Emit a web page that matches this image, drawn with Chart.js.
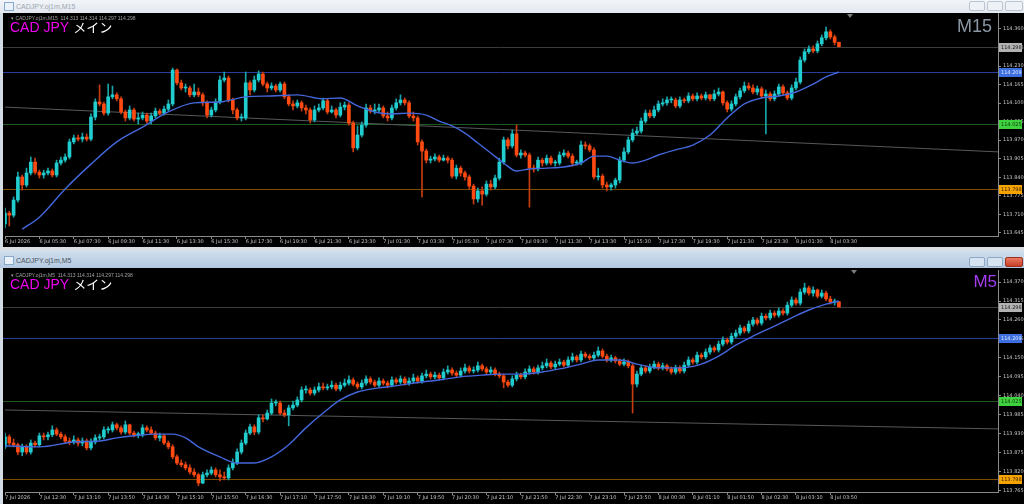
<!DOCTYPE html>
<html lang="ja">
	<head>
		<meta charset="UTF-8">
		<title>CADJPY M15 / M5</title>
		<script src="https://cdn.jsdelivr.net/npm/chart.js@4.4.1/dist/chart.umd.min.js"></script>
		<style>
			body { margin: 0; width: 1024px; height: 504px; overflow: hidden; position: relative; background: #d3dbe5; font-family: "Liberation Sans", Arial, sans-serif; }
			.bar { position: absolute; left: 0; width: 1024px; }
			.icon { position: absolute; left: 4px; width: 8px; height: 7px; border: 1px solid #87a9cc; background: #eaf2fb; }
			.ttl { position: absolute; left: 16px; font-size: 7px; white-space: nowrap; }
			.btn { position: absolute; width: 14px; height: 8px; border: 1px solid #b9c4d0; border-radius: 2px; background: #eef2f6; }
			.win { position: absolute; left: 3px; width: 1021px; background: #000; overflow: hidden; }
			.win canvas { position: absolute; left: 0; top: 0; }
			.head { position: absolute; left: 8px; font-size: 5px; color: #a0a0a0; white-space: nowrap; z-index: 2; }
			.sym { position: absolute; left: 7px; font-size: 14px; line-height: 14px; color: #f000f0; white-space: nowrap; z-index: 2; }
			.sym span { color: #fff; font-family: "Noto Sans CJK JP", sans-serif; font-size: 13px; margin-left: 4px; }
			.tf { position: absolute; font-size: 18px; line-height: 18px; z-index: 2; }
			.shift { position: absolute; width: 0; height: 0; border-left: 3px solid transparent; border-right: 3px solid transparent; border-top: 4px solid #7a7a7a; z-index: 2; }
		</style>
	</head>
	<body>
		<!-- top window: M15 -->
		<div class="bar" style="top:0;height:13px;background:linear-gradient(#f2f5f9,#e2e8ef);">
			<div class="icon" style="top:2px;"></div>
			<div class="ttl" style="top:3px;color:#9ea7b1;">CADJPY.oj1m,M15</div>
			<div class="btn" style="left:969px;top:1px;"></div>
			<div class="btn" style="left:987px;top:1px;"></div>
			<div class="btn" style="left:1005px;top:1px;width:16px;"></div>
		</div>
		<div class="win" style="top:13px;height:234px;">
			<canvas id="m15" width="1021" height="234"></canvas>
			<div class="head" style="top:2px;">&#9662; CADJPY.oj1m,M15 &nbsp;114.313 114.314 114.297 114.298</div>
			<div class="sym" style="top:7px;">CAD JPY<span>メイン</span></div>
			<div class="tf" style="right:32px;top:4px;color:#8b96a4;">M15</div>
			<div class="shift" style="left:844px;top:1px;"></div>
		</div>

		<!-- bottom window: M5 -->
		<div class="bar" style="top:247px;height:4px;background:#d9dee4;"></div>
		<div class="bar" style="top:251px;height:17px;background:linear-gradient(#d0deed,#b3c9e1);">
			<div class="icon" style="top:5px;"></div>
			<div class="ttl" style="top:6px;color:#4a545e;">CADJPY.oj1m,M5</div>
			<div class="btn" style="left:969px;top:6px;background:#d6e3f1;border-color:#8ea7c2;"></div>
			<div class="btn" style="left:987px;top:6px;background:#d6e3f1;border-color:#8ea7c2;"></div>
			<div class="btn" style="left:1005px;top:6px;width:16px;background:linear-gradient(#ea7a62,#c63e28);border-color:#9c2f1e;"></div>
		</div>
		<div class="win" style="top:268px;height:236px;">
			<canvas id="m5" width="1021" height="236"></canvas>
			<div class="head" style="top:4px;">&#9662; CADJPY.oj1m,M5 &nbsp;114.313 114.314 114.297 114.298</div>
			<div class="sym" style="top:9px;">CAD JPY<span>メイン</span></div>
			<div class="tf" style="right:27px;top:5px;color:#a23cf0;font-size:17px;">M5</div>
			<div class="shift" style="left:848px;top:2px;"></div>
		</div>

		<script>
			// ---- M15 ----
			var m15FirstOpen = 113.676;
			var m15Close = [
				113.714,113.707,113.760,113.841,113.813,113.855,113.893,113.858,113.848,113.855,
				113.862,113.848,113.890,113.900,113.911,113.964,113.978,113.974,113.981,113.974,
				114.051,114.104,114.097,114.065,114.122,114.129,114.115,114.069,114.048,114.076,
				114.044,114.048,114.058,114.037,114.055,114.072,114.065,114.079,114.097,114.216,
				114.171,114.153,114.153,114.129,114.139,114.129,114.101,114.058,114.076,114.104,
				114.181,114.188,114.111,114.076,114.048,114.048,114.171,114.146,114.181,114.202,
				114.167,114.153,114.160,114.146,114.167,114.122,114.097,114.090,114.101,114.083,
				114.076,114.041,114.076,114.083,114.108,114.069,114.076,114.058,114.086,114.093,
				114.030,113.943,113.988,114.023,114.083,114.072,114.076,114.083,114.055,114.048,
				114.083,114.101,114.111,114.101,114.055,114.048,113.964,113.932,113.900,113.904,
				113.911,113.900,113.907,113.900,113.844,113.872,113.855,113.841,113.809,113.764,
				113.792,113.781,113.816,113.806,113.837,113.893,113.971,113.950,113.992,113.918,
				113.925,113.918,113.872,113.869,113.900,113.890,113.907,113.890,113.890,113.918,
				113.925,113.914,113.890,113.890,113.953,113.950,113.936,113.841,113.844,113.813,
				113.806,113.813,113.830,113.900,113.929,113.971,113.995,114.002,114.037,114.065,
				114.055,114.076,114.097,114.101,114.111,114.111,114.090,114.111,114.108,114.125,
				114.115,114.125,114.118,114.129,114.115,114.132,114.139,114.101,114.079,114.097,
				114.122,114.143,114.160,114.153,114.139,114.150,114.125,114.132,114.115,114.132,
				114.157,114.136,114.118,114.153,114.174,114.251,114.280,114.290,114.283,114.308,
				114.329,114.350,114.332,114.313,114.298];
			var m15High = [
				113.732,113.721,113.771,113.858,113.848,113.872,113.911,113.907,113.865,113.865,
				113.872,113.869,113.900,113.911,113.922,113.974,113.988,113.988,113.995,113.992,
				114.062,114.115,114.164,114.104,114.167,114.160,114.136,114.122,114.076,114.090,
				114.083,114.065,114.069,114.065,114.065,114.083,114.079,114.090,114.111,114.223,
				114.220,114.181,114.167,114.160,114.167,114.153,114.136,114.108,114.086,114.115,
				114.195,114.209,114.195,114.118,114.083,114.062,114.209,114.178,114.195,114.213,
				114.209,114.174,114.171,114.167,114.174,114.174,114.129,114.108,114.111,114.108,
				114.093,114.083,114.090,114.097,114.118,114.115,114.090,114.083,114.101,114.104,
				114.101,114.037,114.020,114.034,114.097,114.093,114.097,114.097,114.090,114.069,
				114.093,114.115,114.129,114.118,114.108,114.069,114.055,113.971,113.939,113.914,
				113.922,113.918,113.918,113.914,113.907,113.883,113.879,113.862,113.848,113.816,
				113.802,113.806,113.827,113.830,113.848,113.907,113.981,113.978,114.006,114.023,
				113.936,113.932,113.925,113.883,113.911,113.907,113.918,113.914,113.900,113.929,
				113.936,113.932,113.922,113.900,113.967,113.964,113.957,113.943,113.872,113.851,
				113.823,113.820,113.837,113.911,113.943,113.981,114.009,114.016,114.048,114.076,
				114.076,114.090,114.108,114.115,114.122,114.122,114.118,114.122,114.118,114.136,
				114.132,114.136,114.132,114.139,114.132,114.146,114.153,114.143,114.108,114.108,
				114.132,114.153,114.174,114.171,114.164,114.160,114.157,114.146,114.139,114.143,
				114.167,114.164,114.143,114.164,114.188,114.262,114.290,114.301,114.301,114.318,
				114.339,114.367,114.357,114.339,114.314];
			var m15Low = [
				113.662,113.669,113.700,113.753,113.795,113.806,113.848,113.851,113.837,113.837,
				113.848,113.841,113.841,113.883,113.893,113.904,113.957,113.967,113.964,113.967,
				113.967,114.041,114.090,114.058,114.058,114.115,114.108,114.062,114.037,114.041,
				114.037,114.027,114.041,114.030,114.027,114.048,114.058,114.058,114.072,114.090,
				114.164,114.146,114.139,114.122,114.122,114.122,114.090,114.048,114.051,114.069,
				114.097,114.174,114.104,114.062,114.041,114.037,114.041,114.129,114.139,114.174,
				114.160,114.139,114.146,114.139,114.139,114.115,114.090,114.076,114.083,114.072,
				114.062,114.030,114.034,114.069,114.076,114.062,114.065,114.048,114.051,114.076,
				114.023,113.929,113.936,113.981,114.016,114.065,114.062,114.069,114.048,114.037,
				114.041,114.076,114.093,114.093,114.048,114.037,113.953,113.771,113.890,113.890,
				113.897,113.893,113.897,113.890,113.837,113.834,113.844,113.830,113.799,113.746,
				113.753,113.742,113.774,113.795,113.799,113.830,113.886,113.939,113.943,113.911,
				113.907,113.911,113.735,113.858,113.862,113.879,113.883,113.883,113.879,113.883,
				113.911,113.907,113.879,113.883,113.883,113.939,113.929,113.834,113.830,113.802,
				113.792,113.795,113.802,113.820,113.893,113.922,113.964,113.988,113.995,114.030,
				114.048,114.048,114.069,114.090,114.093,114.101,114.083,114.083,114.101,114.101,
				114.108,114.108,114.111,114.111,114.108,114.108,114.125,114.093,114.069,114.072,
				114.090,114.115,114.136,114.146,114.132,114.129,114.118,113.992,114.108,114.108,
				114.125,114.129,114.111,114.111,114.146,114.167,114.244,114.273,114.276,114.276,
				114.301,114.322,114.325,114.304,114.297];
			var m15MaIdx = [4, 8, 14, 20, 26, 32, 38, 44, 50, 56, 62, 68, 74, 78, 82, 86, 90, 94, 98, 101,
				104, 107, 110, 113, 116, 119, 122, 126, 130, 134, 137, 140, 143, 146, 149, 152, 156, 160,
				164, 168, 172, 176, 180, 184, 188, 191, 194];
			var m15MaVal = [113.658, 113.700, 113.799, 113.886, 113.964, 114.016, 114.069, 114.101, 114.104,
				114.122, 114.125, 114.129, 114.115, 114.118, 114.090, 114.069, 114.062, 114.065, 114.058,
				114.037, 114.020, 113.995, 113.960, 113.925, 113.890, 113.862, 113.869, 113.872, 113.876,
				113.890, 113.914, 113.914, 113.900, 113.890, 113.900, 113.918, 113.936, 113.953, 113.988,
				114.048, 114.097, 114.118, 114.125, 114.139, 114.167, 114.192, 114.209];
			var m15Trend = [114.086, 113.929];
			var m15YTicks = [114.360, 114.295, 114.230, 114.165, 114.100, 114.035, 113.970, 113.905, 113.840, 113.775, 113.710, 113.645];
			var m15XLabels = ["6 Jul 2026", "6 Jul 05:30", "6 Jul 07:30", "6 Jul 09:30", "6 Jul 11:30", "6 Jul 13:30",
				"6 Jul 15:30", "6 Jul 17:30", "6 Jul 19:30", "6 Jul 21:30", "6 Jul 23:30", "7 Jul 01:30", "7 Jul 03:30",
				"7 Jul 05:30", "7 Jul 07:30", "7 Jul 09:30", "7 Jul 11:30", "7 Jul 13:30", "7 Jul 15:30", "7 Jul 17:30",
				"7 Jul 19:30", "7 Jul 21:30", "7 Jul 23:30", "8 Jul 01:30", "8 Jul 03:30"];

			// ---- M5 ----
			var m5FirstOpen = 113.892;
			var m5Close = [
				113.921,113.903,113.898,113.877,113.892,113.877,113.903,113.898,113.924,113.921,
				113.927,113.941,113.929,113.921,113.909,113.906,113.912,113.903,113.909,113.889,
				113.906,113.918,113.921,113.941,113.941,113.956,113.947,113.935,113.956,113.932,
				113.927,113.927,113.947,113.941,113.932,113.918,113.924,113.903,113.892,113.863,
				113.845,113.840,113.831,113.819,113.811,113.787,113.811,113.816,113.825,113.811,
				113.805,113.802,113.831,113.845,113.877,113.903,113.932,113.950,113.935,113.976,
				113.973,113.990,114.019,114.019,113.990,113.985,114.005,114.013,114.028,114.057,
				114.057,114.048,114.057,114.066,114.063,114.066,114.071,114.060,114.071,114.077,
				114.086,114.074,114.066,114.077,114.089,114.080,114.071,114.083,114.077,114.071,
				114.086,114.080,114.089,114.077,114.083,114.092,114.083,114.098,114.103,114.095,
				114.100,114.092,114.109,114.115,114.106,114.100,114.112,114.121,114.112,114.115,
				114.127,114.118,114.109,114.115,114.103,114.098,114.080,114.071,114.089,114.100,
				114.095,114.109,114.118,114.109,114.121,114.127,114.135,114.124,114.132,114.138,
				114.129,114.144,114.153,114.144,114.161,114.155,114.150,114.158,114.170,114.155,
				114.144,114.150,114.141,114.132,114.138,114.127,114.074,114.103,114.121,114.112,
				114.124,114.132,114.121,114.127,114.118,114.109,114.121,114.112,114.129,114.144,
				114.138,114.158,114.153,114.167,114.179,114.173,114.190,114.202,114.196,114.213,
				114.222,114.237,114.228,114.248,114.260,114.251,114.271,114.266,114.280,114.274,
				114.286,114.280,114.303,114.318,114.309,114.341,114.353,114.338,114.347,114.329,
				114.338,114.321,114.312,114.313,114.298];
			var m5High = [
				113.932,113.927,113.915,113.903,113.900,113.898,113.912,113.909,113.932,113.932,
				113.935,113.953,113.947,113.935,113.927,113.918,113.924,113.918,113.918,113.915,
				113.915,113.927,113.929,113.950,113.950,113.964,113.961,113.953,113.967,113.958,
				113.938,113.935,113.956,113.953,113.950,113.938,113.932,113.929,113.909,113.898,
				113.869,113.854,113.848,113.840,113.828,113.816,113.819,113.825,113.834,113.831,
				113.825,113.819,113.840,113.857,113.886,113.912,113.941,113.958,113.956,113.985,
				113.985,113.999,114.031,114.028,114.025,113.999,114.013,114.025,114.037,114.066,
				114.069,114.063,114.066,114.077,114.077,114.074,114.083,114.077,114.080,114.089,
				114.098,114.092,114.080,114.086,114.098,114.095,114.086,114.092,114.089,114.083,
				114.095,114.092,114.098,114.095,114.092,114.103,114.098,114.106,114.115,114.109,
				114.109,114.106,114.118,114.127,114.121,114.112,114.121,114.132,114.127,114.124,
				114.138,114.132,114.124,114.124,114.121,114.109,114.103,114.086,114.098,114.109,
				114.106,114.118,114.127,114.124,114.129,114.138,114.147,114.141,114.141,114.147,
				114.144,114.153,114.164,114.158,114.170,114.167,114.161,114.167,114.182,114.176,
				114.161,114.158,114.155,114.147,114.147,114.144,114.132,114.112,114.129,114.127,
				114.132,114.141,114.138,114.135,114.132,114.124,114.129,114.127,114.138,114.153,
				114.150,114.167,114.164,114.176,114.187,114.184,114.199,114.211,114.208,114.222,
				114.231,114.245,114.242,114.257,114.268,114.266,114.280,114.277,114.289,114.286,
				114.295,114.292,114.312,114.327,114.324,114.350,114.367,114.358,114.356,114.350,
				114.347,114.344,114.329,114.321,114.314];
			var m5Low = [
				113.886,113.898,113.892,113.869,113.866,113.871,113.871,113.892,113.892,113.912,
				113.912,113.921,113.924,113.915,113.903,113.898,113.900,113.895,113.895,113.883,
				113.883,113.900,113.912,113.915,113.932,113.935,113.941,113.929,113.929,113.927,
				113.921,113.918,113.921,113.935,113.927,113.912,113.909,113.898,113.886,113.857,
				113.840,113.834,113.825,113.813,113.805,113.779,113.785,113.805,113.811,113.805,
				113.793,113.796,113.796,113.825,113.840,113.871,113.898,113.927,113.927,113.929,
				113.964,113.970,113.985,114.011,113.985,113.979,113.953,113.999,114.008,114.022,
				114.048,114.042,114.042,114.051,114.057,114.057,114.060,114.054,114.054,114.066,
				114.071,114.069,114.060,114.060,114.071,114.074,114.066,114.066,114.071,114.063,
				114.066,114.074,114.074,114.071,114.071,114.077,114.077,114.077,114.092,114.089,
				114.089,114.086,114.086,114.103,114.100,114.095,114.095,114.106,114.106,114.106,
				114.109,114.112,114.103,114.103,114.098,114.092,114.063,114.066,114.066,114.083,
				114.089,114.089,114.103,114.103,114.103,114.115,114.121,114.118,114.118,114.127,
				114.124,114.124,114.138,114.138,114.138,114.150,114.144,114.144,114.153,114.150,
				114.138,114.138,114.135,114.127,114.127,114.121,113.990,114.066,114.098,114.106,
				114.106,114.118,114.115,114.115,114.112,114.103,114.103,114.106,114.106,114.124,
				114.132,114.132,114.147,114.147,114.161,114.167,114.167,114.184,114.190,114.190,
				114.208,114.216,114.222,114.222,114.242,114.245,114.245,114.260,114.260,114.268,
				114.268,114.274,114.274,114.298,114.303,114.303,114.335,114.332,114.329,114.324,
				114.324,114.315,114.306,114.303,114.297];
			var m5MaIdx = [0, 8, 16, 22, 26, 30, 35, 39, 42, 45, 50, 54, 58, 62, 66, 70, 74, 78, 82, 87, 92,
				97, 101, 106, 111, 115, 120, 125, 129, 134, 138, 143, 147, 152, 157, 162, 166, 170, 174, 179,
				183, 187, 191, 194];
			var m5MaVal = [113.895, 113.892, 113.906, 113.909, 113.918, 113.924, 113.929, 113.929, 113.918,
				113.892, 113.863, 113.845, 113.845, 113.863, 113.898, 113.947, 113.990, 114.028, 114.051,
				114.063, 114.071, 114.080, 114.086, 114.095, 114.100, 114.103, 114.103, 114.109, 114.118,
				114.132, 114.144, 114.144, 114.132, 114.121, 114.121, 114.132, 114.155, 114.187, 114.213,
				114.242, 114.266, 114.289, 114.306, 114.315];
			var m5Trend = [113.999, 113.944];
			var m5YTicks = [114.370, 114.315, 114.260, 114.205, 114.150, 114.095, 114.040, 113.985, 113.930, 113.875, 113.820, 113.765];
			var m5XLabels = ["7 Jul 2026", "7 Jul 12:30", "7 Jul 13:10", "7 Jul 13:50", "7 Jul 14:30", "7 Jul 15:10",
				"7 Jul 15:50", "7 Jul 16:30", "7 Jul 17:10", "7 Jul 17:50", "7 Jul 18:30", "7 Jul 19:10", "7 Jul 19:50",
				"7 Jul 20:30", "7 Jul 21:10", "7 Jul 21:50", "7 Jul 22:30", "7 Jul 23:10", "7 Jul 23:50", "8 Jul 00:30",
				"8 Jul 01:10", "8 Jul 01:50", "8 Jul 02:30", "8 Jul 03:10", "8 Jul 03:50"];

			// horizontal lines on both charts: bid, blue, green, orange
			var levelValues = [114.298, 114.209, 114.025, 113.798];
			var levelLine = ["#3c3c3c", "#263f9c", "#1d5a1d", "#7a4d00"];
			var levelBox = ["#b3b3b3", "#3d6fe0", "#3fd23f", "#f5a300"];
			var levelText = ["#1a1a1a", "#dbe6ff", "#0b3a0b", "#3a2200"];

			var SLOTS = 232; // bars incl. the empty shift area on the right
			var axisCol = "#8a8a8a";
			var tickFont = { size: 5, family: "DejaVu Sans" };

			var levelsPlugin = {
				id: "levels",
				beforeDatasetsDraw: function(chart) {
					var ctx = chart.ctx, a = chart.chartArea, y = chart.scales.y;
					ctx.save();
					for (var i = 0; i < levelValues.length; i++) {
						var py = Math.round(y.getPixelForValue(levelValues[i])) + 0.5;
						ctx.strokeStyle = levelLine[i];
						ctx.lineWidth = 1;
						ctx.beginPath();
						ctx.moveTo(0, py);
						ctx.lineTo(a.right, py);
						ctx.stroke();
					}
					ctx.restore();
				},
				afterDraw: function(chart) {
					var ctx = chart.ctx, a = chart.chartArea, y = chart.scales.y;
					ctx.save();
					ctx.font = "5px 'DejaVu Sans'";
					ctx.textBaseline = "middle";
					for (var i = 0; i < levelValues.length; i++) {
						var py = Math.round(y.getPixelForValue(levelValues[i]));
						ctx.fillStyle = levelBox[i];
						ctx.fillRect(a.right + 1, py - 4, 23, 9);
						ctx.fillStyle = levelText[i];
						ctx.fillText(levelValues[i].toFixed(3), a.right + 3, py + 0.5);
					}
					ctx.restore();
				}
			};

			function candleChart(id, d) {
				var labels = [];
				for (var i = 0; i < SLOTS; i++) labels.push(i);
				var opens = d.close.map(function(c, i) { return i === 0 ? d.firstOpen : d.close[i - 1]; });
				var bodies = d.close.map(function(c, i) { return [opens[i], c]; });
				var wicks = d.low.map(function(l, i) { return [l, d.high[i]]; });
				var bodyCol = d.close.map(function(c, i) { return c >= opens[i] ? "#22cdd0" : "#ff4a12"; });
				var wickCol = d.close.map(function(c, i) { return c >= opens[i] ? "#18a4a8" : "#c43c10"; });
				var ma = new Array(SLOTS).fill(null);
				d.maIdx.forEach(function(k, j) { ma[k] = d.maVal[j]; });
				var trend = new Array(SLOTS).fill(null);
				trend[0] = d.trend[0];
				trend[SLOTS - 1] = d.trend[1];

				return new Chart(document.getElementById(id), {
					type: "bar",
					data: {
						labels: labels,
						datasets: [
							{ type: "line", data: ma, borderColor: "#4467dc", borderWidth: 1.4, pointRadius: 0, spanGaps: true, cubicInterpolationMode: "monotone", order: 0 },
							{ data: bodies, backgroundColor: bodyCol, barThickness: 3, minBarLength: 1, grouped: false, borderWidth: 0, order: 1 },
							{ data: wicks, backgroundColor: wickCol, barThickness: 1, grouped: false, borderWidth: 0, order: 2 },
							{ type: "line", data: trend, borderColor: "#55585c", borderWidth: 1, pointRadius: 0, spanGaps: true, order: 3 }
						]
					},
					options: {
						responsive: false,
						animation: false,
						layout: { padding: { left: 2, top: d.padTop, right: 0, bottom: 0 } },
						plugins: { legend: { display: false }, tooltip: { enabled: false } },
						scales: {
							x: {
								type: "category",
								offset: false,
								grid: { offset: false, drawOnChartArea: false, tickLength: 3, color: axisCol },
								border: { color: axisCol },
								ticks: {
									autoSkip: false, maxRotation: 0, minRotation: 0, align: "start", padding: 0,
									color: "#c4c4c4", font: tickFont,
									callback: function(v) { return d.xLabels[v / 8]; }
								},
								afterBuildTicks: function(s) {
									s.ticks = s.ticks.filter(function(t) { return t.value % 8 === 0 && t.value / 8 < d.xLabels.length; });
								},
								afterFit: function(s) { s.height = d.xAxisH; s.paddingLeft = 0; s.paddingRight = 0; }
							},
							y: {
								position: "right",
								min: d.yMin,
								max: d.yMax,
								grid: { drawOnChartArea: false, tickLength: 3, color: axisCol },
								border: { color: axisCol },
								ticks: { color: "#c4c4c4", font: tickFont, padding: 2, callback: function(v) { return v.toFixed(3); } },
								afterBuildTicks: function(s) { s.ticks = d.yTicks.map(function(v) { return { value: v }; }); },
								afterFit: function(s) { s.width = 26; s.paddingTop = 0; s.paddingBottom = 0; }
							}
						}
					},
					plugins: [levelsPlugin]
				});
			}

			candleChart("m15", {
				firstOpen: m15FirstOpen, close: m15Close, high: m15High, low: m15Low,
				maIdx: m15MaIdx, maVal: m15MaVal, trend: m15Trend,
				yTicks: m15YTicks, xLabels: m15XLabels,
				yMin: 113.634, yMax: 114.416, padTop: 0, xAxisH: 11
			});
			candleChart("m5", {
				firstOpen: m5FirstOpen, close: m5Close, high: m5High, low: m5Low,
				maIdx: m5MaIdx, maVal: m5MaVal, trend: m5Trend,
				yTicks: m5YTicks, xLabels: m5XLabels,
				yMin: 113.761, yMax: 114.405, padTop: 2, xAxisH: 12
			});
		</script>
	</body>
</html>
